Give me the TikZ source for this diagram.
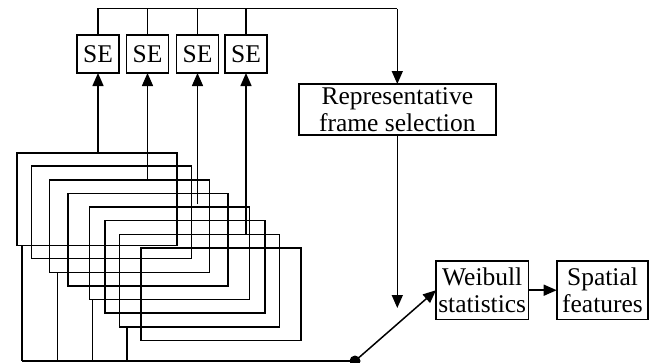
\documentclass[tikz,border=0pt]{standalone}
\usepackage{fontspec}
\setmainfont{Liberation Serif}
\usetikzlibrary{arrows.meta}
\begin{document}
\begin{tikzpicture}[x=1pt,y=-1pt,
  line width=1.5pt,
  every node/.style={font=\fontsize{25.5}{27.5}\selectfont},
  frame/.style={draw,rectangle,anchor=north west,minimum width=160pt,minimum height=92.5pt,inner sep=0pt,outer sep=0pt},
  sebox/.style={draw,rectangle,line width=1.7pt,minimum width=42pt,minimum height=38pt,inner sep=0pt,outer sep=0pt},
  blockbox/.style={draw,rectangle,line width=1.7pt,inner sep=0pt,outer sep=0pt,align=center},
  arr/.style={-{Triangle[length=13pt,width=11pt]}},
  dotc/.style={circle,fill=black,inner sep=0pt,minimum size=11pt}
]
\useasboundingbox (0,0) rectangle (660,362);
% frames
\node[frame] (f1) at (17,153) {};
\node[frame] (f2) at (31.7,166) {};
\node[frame] (f3) at (49.3,180) {};
\node[frame] (f4) at (68,193.5) {};
\node[frame] (f5) at (89.3,207) {};
\node[frame] (f6) at (105,220.7) {};
\node[frame] (f7) at (119.7,234.7) {};
\node[frame] (f8) at (141,248) {};
% SE boxes
\node[sebox] (se1) at (98,54) {SE};
\node[sebox] (se2) at (147.5,54) {SE};
\node[sebox] (se3) at (197.5,54) {SE};
\node[sebox] (se4) at (246,54) {SE};
% blocks
\node[blockbox,minimum width=196.7pt,minimum height=51pt] (rep) at (397.3,109.5) {Representative\\[-1pt]frame selection};
\node[blockbox,minimum width=92.3pt,minimum height=58.3pt] (wei) at (482.2,290.2) {Weibull\\statistics};
\node[blockbox,minimum width=91.6pt,minimum height=58.3pt] (spa) at (602.5,290.2) {Spatial\\features};
% coordinates
\coordinate (topc) at (397.3,8.5);
\coordinate (se3end) at (197.5,204);
\coordinate (downend) at (397.3,308);
\node[dotc] (dot) at (355,361) {};
\coordinate (b1) at (22,361);
% arrows from frames to SE
\draw[arr] (se1.south |- f1.north) -- (se1.south);
\draw[arr] (se2.south |- f3.north) -- (se2.south);
\draw[arr] (se3end) -- (se3.south);
\draw[arr] (se4.south |- f7.north) -- (se4.south);
% top bus
\draw (se1.north) |- (topc);
\draw (se2.north) -- (se2.north |- topc);
\draw (se3.north) -- (se3.north |- topc);
\draw (se4.north) -- (se4.north |- topc);
\draw[arr] (topc) -- (rep.north);
% down from rep
\draw[arr] (rep.south) -- (downend);
% bottom lines
\draw (22,0 |- f1.south) -- (b1);
\draw (57.3,0 |- f3.south) -- (57.3,361);
\draw (92.3,0 |- f5.south) -- (92.3,361);
\draw (127,0 |- f7.south) -- (127,361);
\draw (b1) -- (dot.center);
\draw[arr] (dot.center) -- (wei.west);
\draw[arr] (wei) -- (spa);
\end{tikzpicture}
\end{document}
